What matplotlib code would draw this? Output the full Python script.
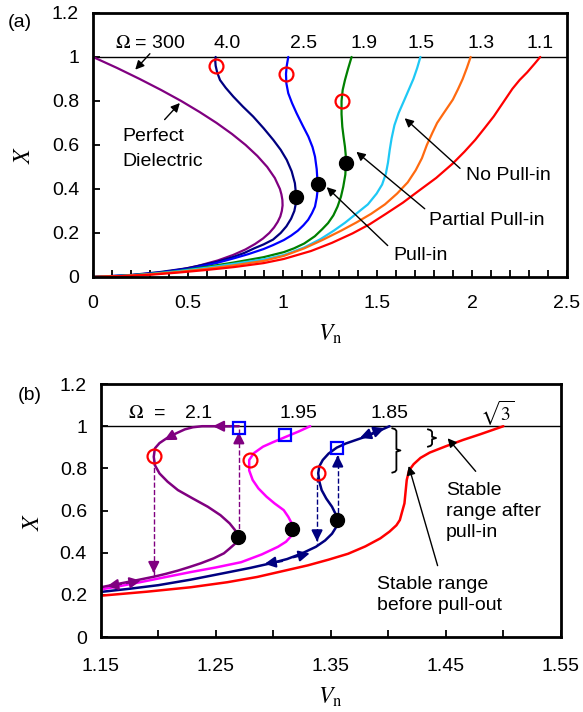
import matplotlib
matplotlib.use("Agg")
import matplotlib.pyplot as plt
from matplotlib.patches import Rectangle

plt.rcParams['font.family'] = ['Liberation Sans', 'DejaVu Sans']
plt.rcParams['mathtext.fontset'] = 'stix'

# ---------------- panel (a) data: (V_n, X) ----------------
a_omega_labels = [r'$\Omega$ = 300', '4.0', '2.5', '1.9', '1.5', '1.3', '1.1']
a_label_x = [0.30, 0.706, 1.11, 1.427, 1.73, 2.045, 2.36]

purple_a_V = [0, 0.127, 0.246, 0.359, 0.465, 0.562, 0.652, 0.733, 0.805, 0.867, 0.919, 0.959,
              0.986, 0.994, 0.999, 1.000, 0.996, 0.988, 0.974, 0.955, 0.930, 0.897, 0.855, 0.804,
              0.739, 0.658, 0.552, 0.469, 0.360, 0.257, 0.183, 0]
purple_a_X = [1.0, 0.95, 0.9, 0.85, 0.8, 0.75, 0.7, 0.65, 0.6, 0.55, 0.5, 0.45,
              0.4, 0.375, 0.35, 0.325, 0.3, 0.275, 0.25, 0.225, 0.2, 0.175, 0.15, 0.125,
              0.1, 0.075, 0.05, 0.035, 0.02, 0.01, 0.005, 0]

navy_a_V = [0.647, 0.645, 0.647, 0.655, 0.67, 0.70, 0.74, 0.79, 0.845, 0.90, 0.951, 0.99, 1.022,
            1.048, 1.065, 1.072, 1.069, 1.062, 1.045, 1.02, 0.99, 0.95, 0.90, 0.85, 0.80, 0.744,
            0.65, 0.5, 0.35, 0.2, 0]
navy_a_X = [1.0, 0.98, 0.96, 0.93, 0.895, 0.86, 0.82, 0.775, 0.729, 0.676, 0.623, 0.578, 0.532,
            0.48, 0.426, 0.365, 0.33, 0.3, 0.265, 0.23, 0.2, 0.17, 0.148, 0.13, 0.11, 0.092,
            0.068, 0.04, 0.022, 0.009, 0]

blue_a_V = [1.03, 1.022, 1.018, 1.02, 1.03, 1.05, 1.074, 1.105, 1.136, 1.158, 1.171, 1.18, 1.185,
            1.184, 1.18, 1.171, 1.155, 1.135, 1.11, 1.08, 1.045, 1.007, 0.95, 0.9, 0.82, 0.744,
            0.65, 0.5, 0.35, 0.2, 0]
blue_a_X = [1.0, 0.96, 0.923, 0.88, 0.835, 0.79, 0.744, 0.69, 0.638, 0.59, 0.547, 0.49, 0.423,
            0.39, 0.36, 0.32, 0.29, 0.26, 0.235, 0.21, 0.188, 0.168, 0.145, 0.127, 0.104, 0.085,
            0.063, 0.036, 0.02, 0.008, 0]

green_a_V = [1.364, 1.345, 1.329, 1.317, 1.311, 1.311, 1.315, 1.322, 1.329, 1.333, 1.334, 1.331,
             1.32, 1.308, 1.29, 1.268, 1.24, 1.21, 1.17, 1.114, 1.06, 1.007, 0.9, 0.744, 0.6,
             0.45, 0.3, 0.15, 0]
green_a_X = [1.0, 0.945, 0.895, 0.85, 0.80, 0.74, 0.683, 0.635, 0.592, 0.555, 0.52, 0.465,
             0.41, 0.365, 0.32, 0.28, 0.245, 0.218, 0.185, 0.152, 0.13, 0.113, 0.09, 0.066, 0.046,
             0.027, 0.014, 0.005, 0]

cyan_a_V = [1.727, 1.71, 1.69, 1.665, 1.643, 1.612, 1.59, 1.575, 1.565, 1.556, 1.545, 1.525, 1.496,
            1.45, 1.388, 1.33, 1.271, 1.2, 1.114, 1.007, 0.9, 0.744, 0.6, 0.45, 0.3, 0.15, 0]
cyan_a_X = [1.0, 0.95, 0.9, 0.85, 0.806, 0.745, 0.69, 0.63, 0.577, 0.52, 0.47, 0.42, 0.379,
            0.33, 0.287, 0.247, 0.211, 0.172, 0.134, 0.1, 0.08, 0.06, 0.042, 0.026, 0.013, 0.005, 0]

orange_a_V = [1.992, 1.972, 1.95, 1.925, 1.898, 1.85, 1.815, 1.79, 1.761, 1.735, 1.702, 1.66, 1.604,
              1.54, 1.467, 1.39, 1.31, 1.21, 1.114, 1.007, 0.9, 0.744, 0.6, 0.45, 0.3, 0.15, 0]
orange_a_X = [1.0, 0.95, 0.9, 0.853, 0.806, 0.745, 0.7, 0.655, 0.6, 0.54, 0.485, 0.43, 0.379,
              0.33, 0.287, 0.248, 0.211, 0.168, 0.13, 0.096, 0.073, 0.053, 0.037, 0.023, 0.012,
              0.004, 0]

red_a_V = [2.359, 2.33, 2.29, 2.25, 2.212, 2.165, 2.114, 2.065, 2.016, 1.96, 1.898, 1.81, 1.722,
           1.635, 1.545, 1.46, 1.369, 1.26, 1.15, 1.007, 0.9, 0.744, 0.6, 0.45, 0.3, 0.15, 0]
red_a_X = [1.0, 0.97, 0.93, 0.895, 0.855, 0.795, 0.73, 0.676, 0.623, 0.57, 0.516, 0.45, 0.394,
           0.338, 0.287, 0.24, 0.198, 0.155, 0.118, 0.082, 0.063, 0.045, 0.032, 0.02, 0.01,
           0.004, 0]

a_circle_V = [0.647, 1.018, 1.311]
a_circle_X = [0.96, 0.923, 0.80]
a_dot_V = [1.072, 1.185, 1.334]
a_dot_X = [0.365, 0.423, 0.52]

# ---------------- panel (b) data ----------------
purple_b_V = [1.27, 1.238, 1.23, 1.223, 1.215, 1.207, 1.201, 1.197, 1.196, 1.197, 1.201, 1.208,
              1.217, 1.23, 1.243, 1.254, 1.262, 1.267, 1.269, 1.267, 1.262, 1.257, 1.248, 1.237,
              1.227, 1.217, 1.206, 1.196, 1.178, 1.163, 1.15]
purple_b_X = [1.0, 1.0, 0.995, 0.985, 0.965, 0.942, 0.92, 0.895, 0.855, 0.815, 0.776, 0.737,
              0.697, 0.657, 0.618, 0.578, 0.539, 0.505, 0.476, 0.444, 0.42, 0.397, 0.373, 0.35,
              0.332, 0.315, 0.299, 0.286, 0.266, 0.25, 0.236]

magenta_b_V = [1.332, 1.322, 1.311, 1.3, 1.291, 1.283, 1.279, 1.279, 1.282, 1.287, 1.294, 1.301,
               1.309, 1.313, 1.316, 1.317, 1.315, 1.311, 1.304, 1.29, 1.272, 1.25, 1.228, 1.205,
               1.185, 1.165, 1.15]
magenta_b_X = [1.0, 0.975, 0.95, 0.925, 0.903, 0.872, 0.84, 0.79, 0.745, 0.705, 0.666, 0.634,
               0.602, 0.57, 0.539, 0.51, 0.476, 0.452, 0.428, 0.392, 0.355, 0.33, 0.308, 0.283,
               0.261, 0.24, 0.226]

navy_b_V = [1.401, 1.394, 1.387, 1.38, 1.372, 1.363, 1.355, 1.348, 1.343, 1.34, 1.339, 1.34, 1.342,
            1.346, 1.351, 1.354, 1.355, 1.355, 1.351, 1.345, 1.337, 1.325, 1.312, 1.298, 1.28,
            1.256, 1.228, 1.2, 1.175, 1.15]
navy_b_X = [1.0, 0.983, 0.966, 0.95, 0.935, 0.918, 0.898, 0.87, 0.84, 0.81, 0.777, 0.737, 0.697,
            0.657, 0.618, 0.585, 0.555, 0.525, 0.49, 0.458, 0.428, 0.397, 0.37, 0.35, 0.328,
            0.302, 0.272, 0.246, 0.229, 0.214]

red_b_V = [1.15, 1.19, 1.228, 1.26, 1.286, 1.31, 1.33, 1.348, 1.365, 1.38, 1.393, 1.401, 1.407,
           1.41, 1.412, 1.414, 1.415, 1.416, 1.418, 1.422, 1.428, 1.436, 1.45, 1.465, 1.48, 1.5]
red_b_X = [0.196, 0.215, 0.236, 0.26, 0.285, 0.315, 0.34, 0.367, 0.395, 0.43, 0.468, 0.5, 0.53,
           0.555, 0.595, 0.634, 0.69, 0.745, 0.79, 0.82, 0.85, 0.875, 0.905, 0.935, 0.962, 1.0]

b_circle_V = [1.196, 1.2796, 1.339]
b_circle_X = [0.86, 0.84, 0.777]
b_square_V = [1.27, 1.31, 1.355]
b_square_X = [0.993, 0.958, 0.898]
b_dot_V = [1.269, 1.316, 1.355]
b_dot_X = [0.476, 0.512, 0.555]
b_omega_labels = ['2.1', '1.95', '1.85', r'$\sqrt{3}$']
b_label_x = [1.235, 1.322, 1.401, 1.495]

# stable ranges marked with braces (V position, X from, X to)
brace_V = [1.407, 1.438]
brace_lo = [0.78, 0.903]
brace_hi = [0.99, 0.985]

PURPLE = '#800080'
NAVY = '#000080'
BLUE = '#0000ff'
GREEN = '#008000'
CYAN = '#1ec8f5'
ORANGE = '#ff6a10'
RED = '#ff0000'
MAGENTA = '#ff00ff'

FS = 14

fig = plt.figure(figsize=(5.83, 7.12), dpi=100)
ax1 = fig.add_axes([0.1595, 0.611, 0.813, 0.3708])
ax2 = fig.add_axes([0.173, 0.1053, 0.789, 0.3553])


def style_axes(ax):
    for s in ax.spines.values():
        s.set_linewidth(2)
    ax.tick_params(which='both', direction='in', top=False, right=False,
                   length=5, width=1.3, labelsize=FS)
    ax.tick_params(axis='y', pad=10)
    ax.set_yticks([0, 0.2, 0.4, 0.6, 0.8, 1.0, 1.2])
    ax.set_yticklabels(['0', '0.2', '0.4', '0.6', '0.8', '1', '1.2'])
    ax.set_ylim(0, 1.2)


# ---------------- panel (a) ----------------
style_axes(ax1)
ax1.set_xlim(0, 2.5)
ax1.set_xticks([0, 0.5, 1.0, 1.5, 2.0, 2.5])
ax1.set_xticklabels(['0', '0.5', '1', '1.5', '2', '2.5'])
ax1.set_xticks([i / 10 for i in range(26)], minor=True)
ax1.tick_params(axis='x', which='both', pad=13)
ax1.axhline(1.0, color='black', lw=1)

for V, X, c in [(purple_a_V, purple_a_X, PURPLE), (navy_a_V, navy_a_X, NAVY),
                (blue_a_V, blue_a_X, BLUE), (green_a_V, green_a_X, GREEN),
                (cyan_a_V, cyan_a_X, CYAN), (orange_a_V, orange_a_X, ORANGE),
                (red_a_V, red_a_X, RED)]:
    ax1.plot(V, X, color=c, lw=1.6, solid_capstyle='round', solid_joinstyle='round')

ax1.plot(a_circle_V, a_circle_X, 'o', ms=10, mfc='none', mec=RED, mew=1.6, zorder=5)
ax1.plot(a_dot_V, a_dot_X, 'o', ms=10, color='black', zorder=5)

for lab, x in zip(a_omega_labels, a_label_x):
    ax1.text(x, 1.06, lab, ha='center', va='center', fontsize=FS)

arr = dict(arrowstyle='-|>', color='black', lw=1, mutation_scale=13)
ax1.annotate('', xy=(0.213, 0.933), xytext=(0.31, 1.024), arrowprops=arr)
ax1.annotate('', xy=(0.468, 0.80), xytext=(0.368, 0.706), arrowprops=arr)
ax1.text(0.153, 0.638, 'Perfect', ha='left', va='center', fontsize=FS)
t = ax1.text(0.153, 0.524, 'Dielectric', ha='left', va='center', fontsize=FS)
# the lower edge of this word is cut off in the original figure
t.set_clip_path(Rectangle((0, 0.506), 1.0, 0.2, transform=ax1.transData))

ax1.annotate('', xy=(1.222, 0.417), xytext=(1.565, 0.134), arrowprops=arr)
ax1.annotate('', xy=(1.378, 0.577), xytext=(1.761, 0.302), arrowprops=arr)
ax1.annotate('', xy=(1.633, 0.73), xytext=(1.947, 0.485), arrowprops=arr)
ax1.text(1.584, 0.096, 'Pull-in', ha='left', va='center', fontsize=FS)
ax1.text(1.771, 0.256, 'Partial Pull-in', ha='left', va='center', fontsize=FS)
ax1.text(1.967, 0.463, 'No Pull-in', ha='left', va='center', fontsize=FS)

# ---------------- panel (b) ----------------
style_axes(ax2)
ax2.set_xlim(1.15, 1.55)
ax2.set_xticks([1.15, 1.25, 1.35, 1.45, 1.55])
ax2.set_xticklabels(['1.15', '1.25', '1.35', '1.45', '1.55'])
ax2.set_xticks([1.2, 1.3, 1.4, 1.5], minor=True)
ax2.tick_params(axis='x', which='both', pad=15)
ax2.axhline(1.0, color='black', lw=1)

for V, X, c in [(red_b_V, red_b_X, RED), (navy_b_V, navy_b_X, NAVY),
                (magenta_b_V, magenta_b_X, MAGENTA), (purple_b_V, purple_b_X, PURPLE)]:
    ax2.plot(V, X, color=c, lw=1.8, solid_capstyle='round', solid_joinstyle='round')


def head(ax, tail, tip, color):
    ax.annotate('', xy=tip, xytext=tail,
                arrowprops=dict(arrowstyle='-|>', color=color, lw=1.5, mutation_scale=16))


# arrows along the curves
head(ax2, (1.265, 1.0), (1.245, 1.0), PURPLE)
head(ax2, (1.215, 0.962), (1.203, 0.928), PURPLE)
head(ax2, (1.17, 0.253), (1.187, 0.27), PURPLE)
head(ax2, (1.17, 0.253), (1.153, 0.239), PURPLE)
head(ax2, (1.315, 0.375), (1.334, 0.40), NAVY)
head(ax2, (1.31, 0.362), (1.29, 0.345), NAVY)
head(ax2, (1.385, 0.968), (1.399, 0.995), NAVY)
head(ax2, (1.39, 0.975), (1.373, 0.94), NAVY)

# dashed jumps
for x0, y0, y1, c in [(1.27, 0.48, 0.985, PURPLE), (1.196, 0.84, 0.29, PURPLE),
                      (1.338, 0.76, 0.44, NAVY), (1.356, 0.555, 0.875, NAVY)]:
    ax2.plot([x0, x0], [y0, y1], ls='--', color=c, lw=1)
    d = 0.04 if y1 > y0 else -0.04
    head(ax2, (x0, y1 - d), (x0, y1), c)

ax2.plot(b_circle_V, b_circle_X, 'o', ms=10, mfc='none', mec=RED, mew=1.6, zorder=5)
ax2.plot(b_square_V, b_square_X, 's', ms=8.5, mfc='none', mec=BLUE, mew=1.6, zorder=5)
ax2.plot(b_dot_V, b_dot_X, 'o', ms=10, color='black', zorder=5)

ax2.text(1.19, 1.06, r'$\Omega$  =', ha='center', va='center', fontsize=FS)
for lab, x in zip(b_omega_labels, b_label_x):
    ax2.text(x, 1.06, lab, ha='center', va='center', fontsize=FS)

# thin curly braces
for bx, lo, hi in zip(brace_V, brace_lo, brace_hi):
    mid = (lo + hi) / 2
    h = 0.012
    w = 0.0035
    ax2.plot([bx - w, bx - w / 3, bx, bx, bx + w, bx, bx, bx - w / 3, bx - w],
             [hi, hi - h / 3, hi - h, mid + h / 2, mid, mid - h / 2, lo + h, lo + h / 3, lo],
             color='black', lw=1.3, solid_joinstyle='round')

ax2.annotate('', xy=(1.45, 0.953), xytext=(1.4775, 0.776), arrowprops=arr)
ax2.annotate('', xy=(1.417, 0.824), xytext=(1.4435, 0.326), arrowprops=arr)
ax2.text(1.45, 0.594, 'Stable\nrange after\npull-in', ha='left', va='center',
         fontsize=FS, linespacing=1.3)
ax2.text(1.39, 0.199, 'Stable range\nbefore pull-out', ha='left', va='center',
         fontsize=FS, linespacing=1.3)

# axis labels and panel tags
fig.text(0.041, 0.782, r'$X$', fontsize=17, ha='center', va='center', rotation=90)
fig.text(0.057, 0.267, r'$X$', fontsize=17, ha='center', va='center', rotation=90)
fig.text(0.566, 0.531, r'$V_{\rm n}$', fontsize=17, ha='center', va='center')
fig.text(0.567, 0.021, r'$V_{\rm n}$', fontsize=17, ha='center', va='center')
fig.text(0.014, 0.969, '(a)', fontsize=FS, ha='left', va='center')
fig.text(0.030, 0.445, '(b)', fontsize=FS, ha='left', va='center')

fig.savefig('out.png', dpi=100)
